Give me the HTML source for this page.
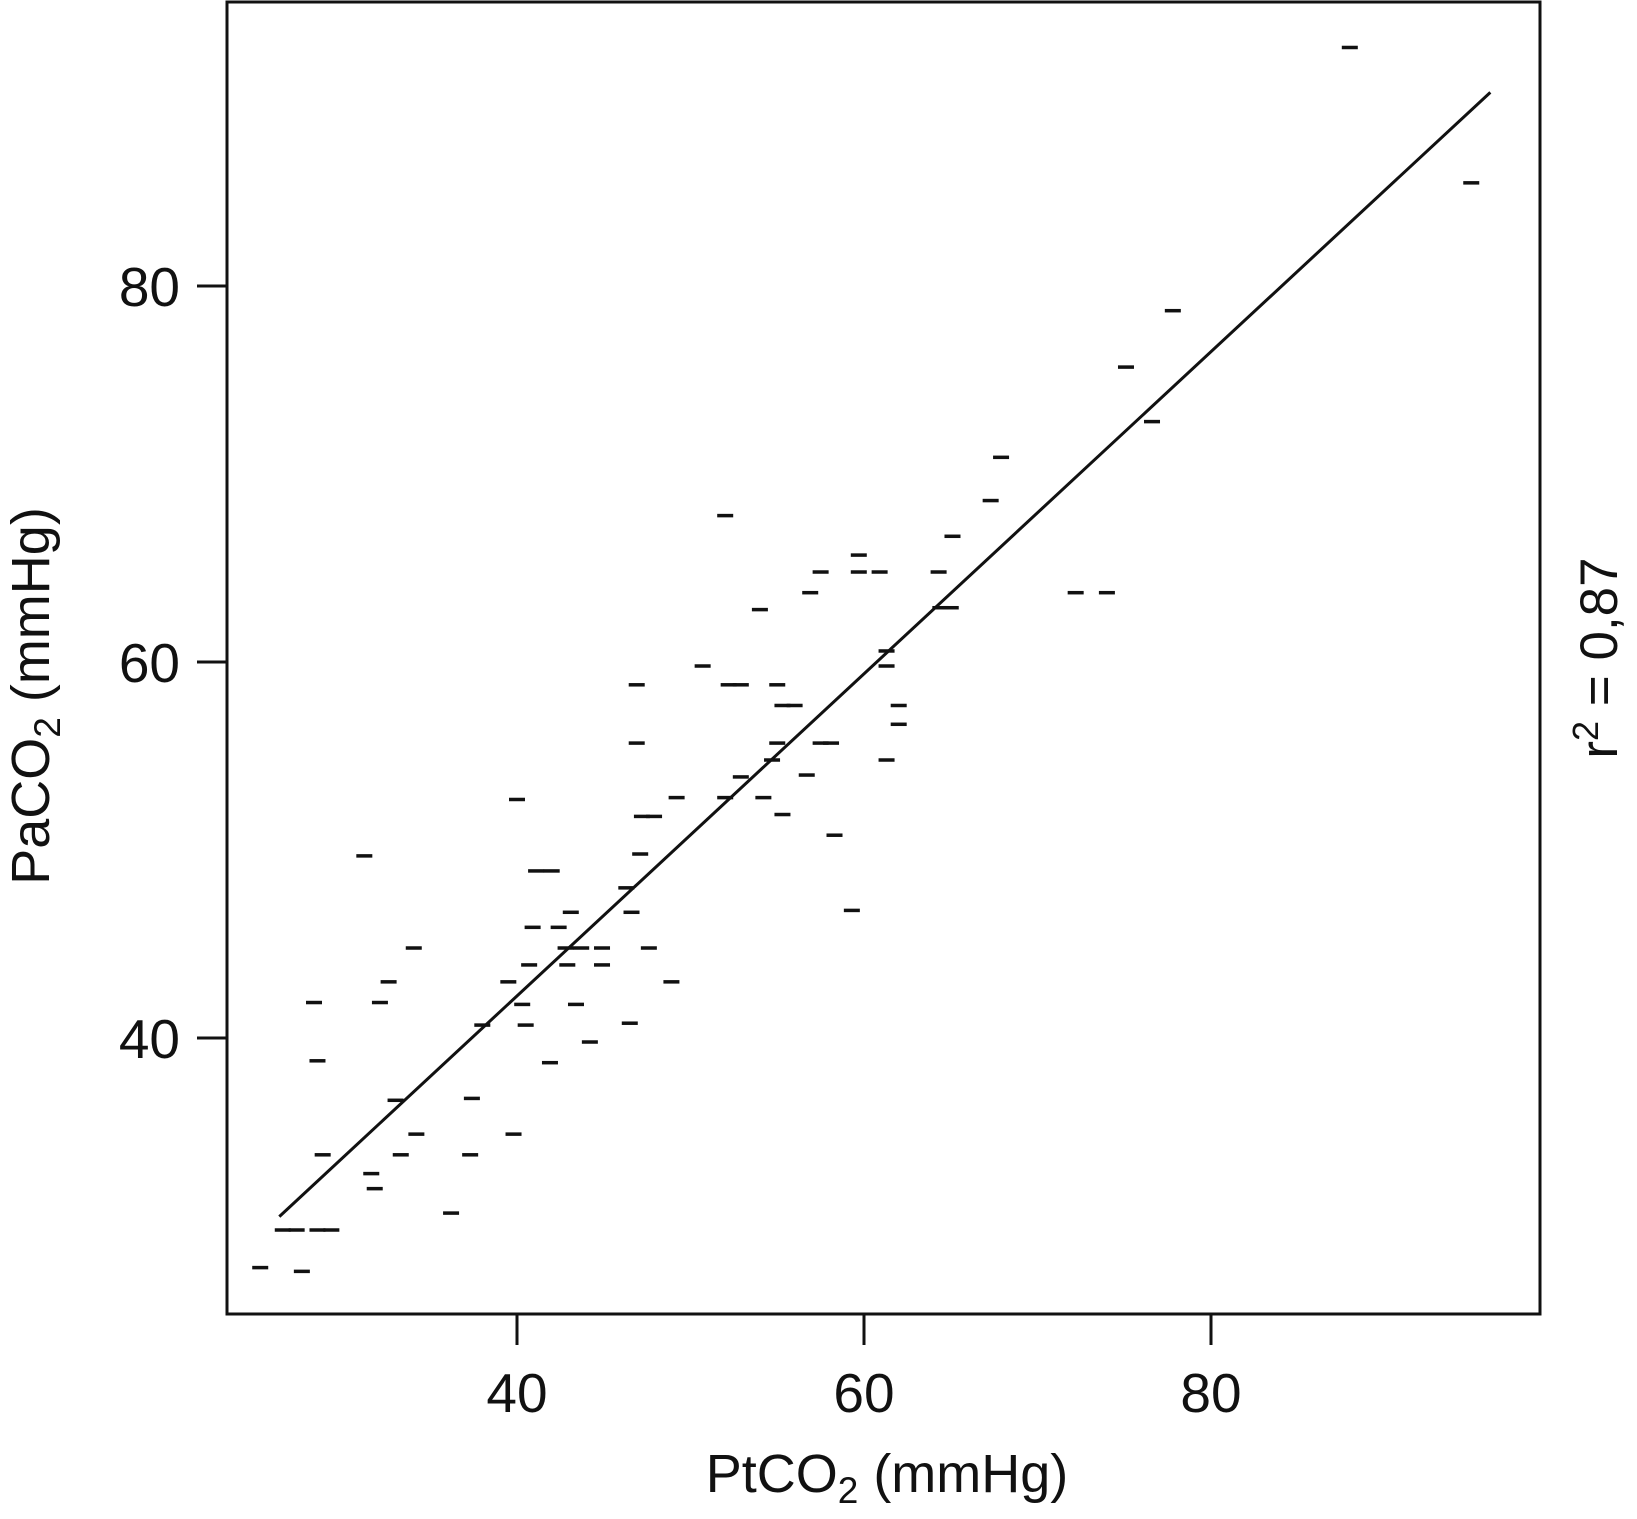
<!DOCTYPE html>
<html><head><meta charset="utf-8"><style>
html,body{margin:0;padding:0;background:#fff;}
svg{display:block;font-family:"Liberation Sans",Arial,sans-serif;}
</style></head><body>
<svg id="chart" width="1637" height="1519" viewBox="0 0 1637 1519">
<rect x="227" y="2" width="1313" height="1312" fill="none" stroke="#111" stroke-width="3"/>
<g id="ticks"></g>
<g id="points"></g>
<g id="fit"></g>
<text x="887" y="1492" font-size="54" text-anchor="middle" fill="#111">PtCO<tspan font-size="37" dy="11">2</tspan><tspan dy="-11"> (mmHg)</tspan></text>
<text transform="translate(49,696) rotate(-90)" font-size="54" text-anchor="middle" fill="#111">PaCO<tspan font-size="37" dy="11">2</tspan><tspan dy="-11"> (mmHg)</tspan></text>
<text transform="translate(1617,658) rotate(-90)" font-size="53" text-anchor="middle" fill="#111">r<tspan font-size="36" dy="-19">2</tspan><tspan dy="19"> = 0,87</tspan></text>
</svg>
<script>
const xTicks = [40, 60, 80];
const yTicks = [40, 60, 80];
const ptX = [88.0,95.0,77.8,75.1,76.6,67.9,67.3,52.0,65.1,59.7,57.5,59.7,60.9,64.3,56.9,54.0,64.4,65.0,72.2,74.0,61.3,61.3,50.7,52.2,52.9,55.0,46.9,55.3,56.0,62.0,62.0,46.9,55.0,57.5,58.1,61.3,54.7,52.9,56.7,40.0,49.2,52.0,54.2,47.2,47.9,55.3,58.3,47.1,31.2,41.1,42.0,46.3,43.1,46.6,59.3,40.9,42.4,34.05,42.8,43.7,44.9,47.6,40.7,42.9,44.9,32.6,39.5,48.9,28.3,32.1,40.3,43.4,38.0,40.5,46.5,44.2,41.9,28.5,33.0,37.4,34.2,39.8,28.8,33.3,37.3,31.6,31.8,36.2,26.5,27.3,28.5,29.3,25.2,27.6];
const ptY = [92.7,85.5,78.7,75.7,72.8,70.9,68.6,67.8,66.7,65.7,64.8,64.8,64.8,64.8,63.7,62.8,62.9,62.9,63.7,63.7,60.6,59.8,59.8,58.8,58.8,58.8,58.8,57.7,57.7,57.7,56.7,55.7,55.7,55.7,55.7,54.8,54.8,53.9,54.0,52.7,52.8,52.8,52.8,51.8,51.8,51.9,50.8,49.8,49.7,48.9,48.9,48.0,46.7,46.7,46.8,45.9,45.9,44.8,44.8,44.8,44.8,44.8,43.9,43.9,43.9,43.0,43.0,43.0,41.9,41.9,41.8,41.8,40.7,40.7,40.8,39.8,38.7,38.8,36.7,36.8,34.9,34.9,33.8,33.8,33.8,32.8,32.0,30.7,29.8,29.8,29.8,29.8,27.8,27.6];
const fitX = [26.3, 96.1];
const fitY = [30.5, 90.3];

function sx(v){ return 517 + (v - 40) * 17.35; }
function sy(v){ return 1038 - (v - 40) * 18.8; }
const NS = "http://www.w3.org/2000/svg";
const tg = document.getElementById('ticks');
xTicks.forEach(t => {
  const l = document.createElementNS(NS,'line');
  l.setAttribute('x1', sx(t)); l.setAttribute('x2', sx(t));
  l.setAttribute('y1', 1314); l.setAttribute('y2', 1345);
  l.setAttribute('stroke', '#111'); l.setAttribute('stroke-width', 3);
  
  
  tg.appendChild(l);
  const tx = document.createElementNS(NS,'text');
  tx.setAttribute('x', sx(t)); tx.setAttribute('y', 1412);
  tx.setAttribute('font-size', 55); tx.setAttribute('text-anchor', 'middle'); tx.setAttribute('fill', '#111');
  tx.textContent = t;
  
  
  tg.appendChild(tx);
});
yTicks.forEach(t => {
  const l = document.createElementNS(NS,'line');
  l.setAttribute('x1', 197); l.setAttribute('x2', 227);
  l.setAttribute('y1', sy(t)); l.setAttribute('y2', sy(t));
  l.setAttribute('stroke', '#111'); l.setAttribute('stroke-width', 3);
  
  
  tg.appendChild(l);
  const tx = document.createElementNS(NS,'text');
  tx.setAttribute('x', 180); tx.setAttribute('y', sy(t) + 20);
  tx.setAttribute('font-size', 55); tx.setAttribute('text-anchor', 'end'); tx.setAttribute('fill', '#111');
  tx.textContent = t;
  
  
  tg.appendChild(tx);
});
const pg = document.getElementById('points');
ptX.forEach((x, i) => {
  const r = document.createElementNS(NS,'rect');
  r.setAttribute('x', sx(x) - 8); r.setAttribute('y', sy(ptY[i]) - 1.5);
  r.setAttribute('width', 16); r.setAttribute('height', 3.5);
  r.setAttribute('fill', '#111');
  
  
  pg.appendChild(r);
});
const fl = document.createElementNS(NS,'line');
fl.setAttribute('x1', sx(fitX[0])); fl.setAttribute('y1', sy(fitY[0]));
fl.setAttribute('x2', sx(fitX[1])); fl.setAttribute('y2', sy(fitY[1]));
fl.setAttribute('stroke', '#111'); fl.setAttribute('stroke-width', 3);


document.getElementById('fit').appendChild(fl);
</script>
</body></html>
